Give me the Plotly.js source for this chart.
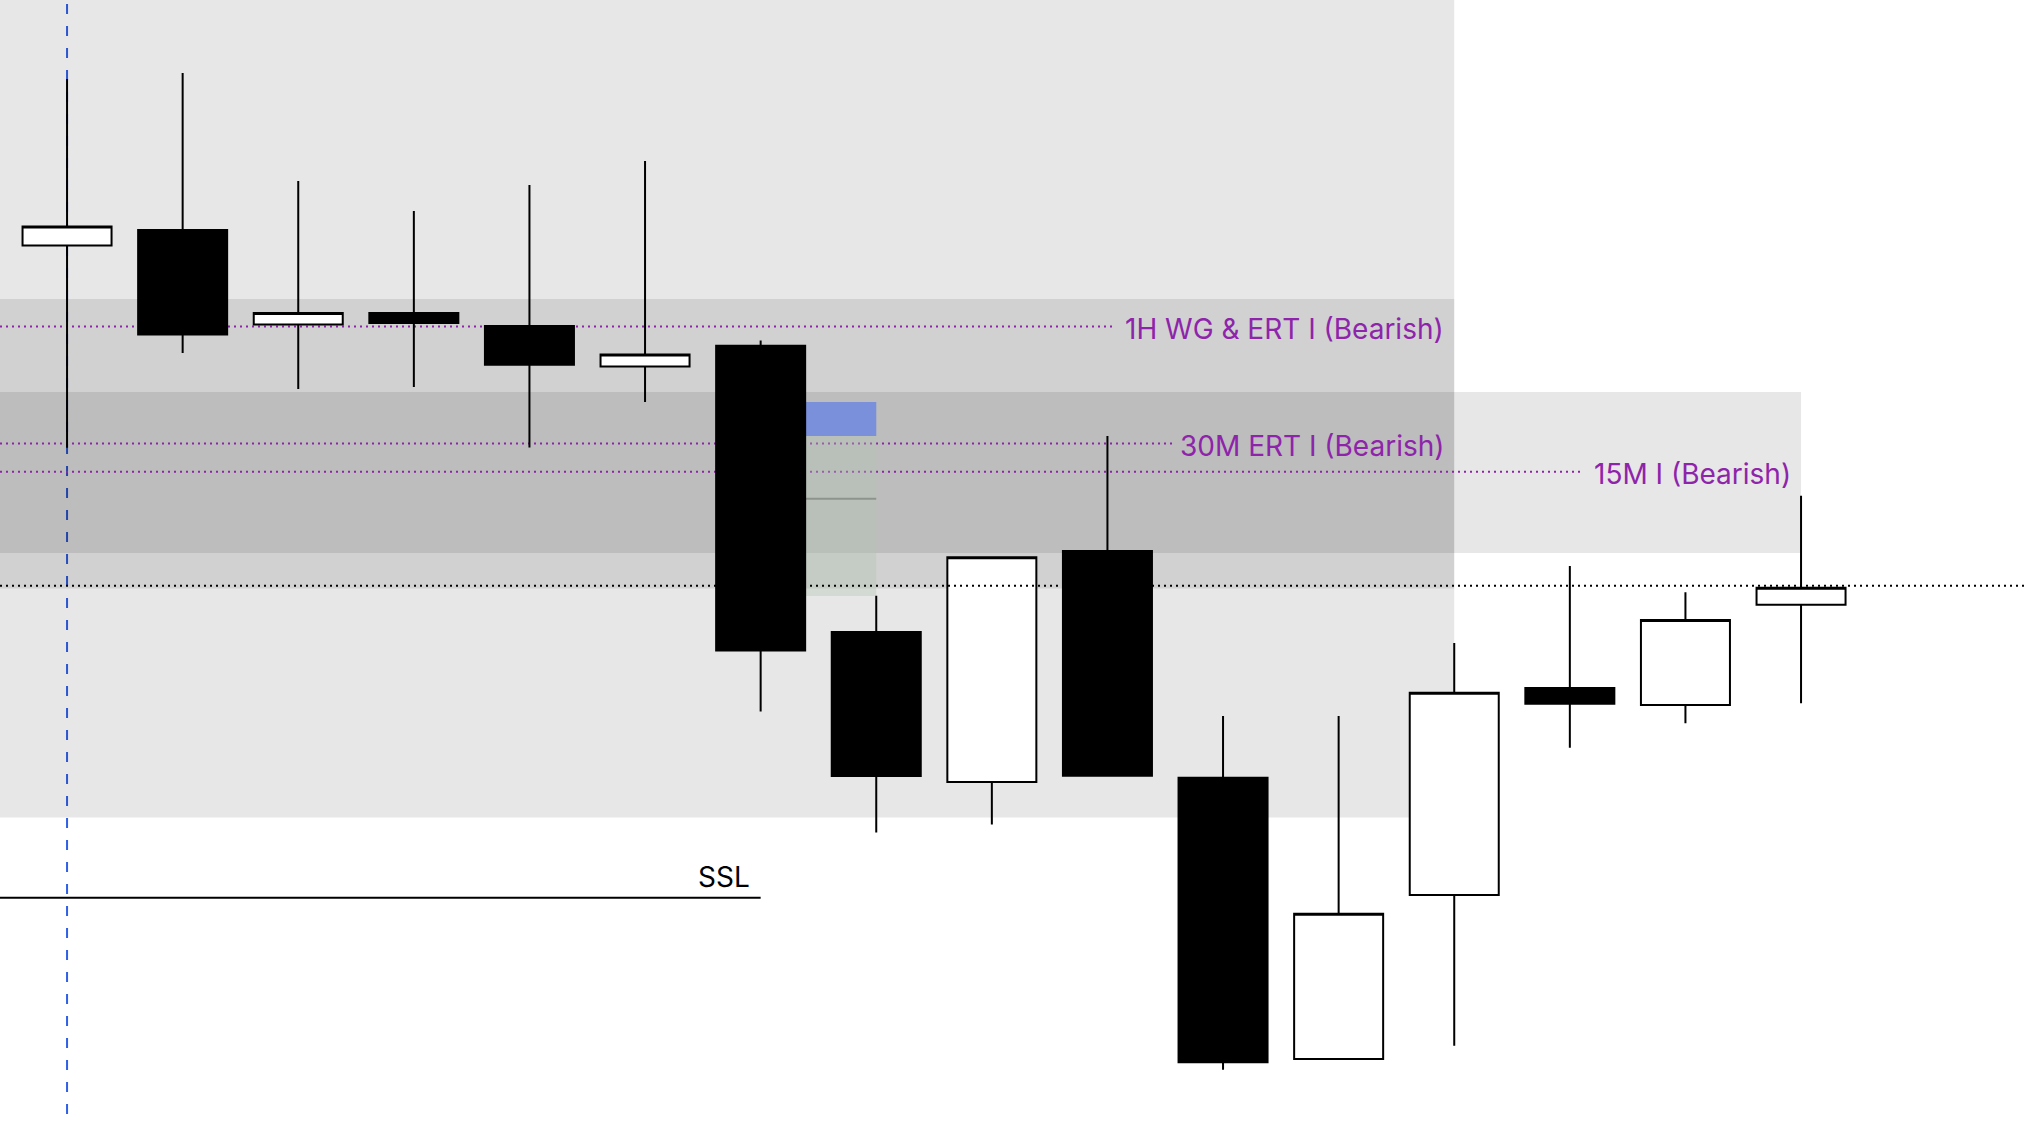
<!DOCTYPE html>
<html>
<head>
<meta charset="utf-8">
<script src="https://cdn.plot.ly/plotly-3.0.1.min.js"></script>
<style>
html,body{margin:0;padding:0;background:#fff;overflow:hidden}
#chart{width:2026px;height:1122px}
</style>
</head>
<body>
<div id="chart"></div>
<script>
// ---- data ----
const candleIndex = [0, 1, 2, 3, 4, 5, 6, 7, 8, 9, 10, 11, 12, 13, 14, 15];
const openPrices  = [87.65, 89.20, 79.74, 80.90, 79.61, 75.56, 77.62, 49.00, 33.99, 57.10, 34.43, 6.30, 22.71, 43.40, 41.70, 51.73];
const highPrices  = [104.30, 104.90, 94.10, 91.09, 93.70, 96.10, 78.14, 52.63, 56.48, 68.60, 40.60, 40.60, 47.90, 55.60, 52.97, 62.63];
const lowPrices   = [67.43, 76.89, 73.31, 73.49, 67.44, 71.99, 41.05, 28.94, 29.74, 34.62, 5.22, 6.30, 7.62, 37.42, 39.87, 41.87];
const closePrices = [89.56, 78.74, 80.90, 79.89, 75.73, 76.75, 47.14, 34.60, 56.48, 34.62, 5.98, 20.83, 42.93, 41.83, 50.20, 53.43];

// grey zones
const zoneTop    = [112.2, 82.30, 73.00];
const zoneBottom = [30.44, 53.35, 56.90];
const zoneEnd    = [12, 12, 15];

// labelled levels
const levelNames  = ['1H WG & ERT I (Bearish)', '30M ERT I (Bearish)', '15M I (Bearish)'];
const levelPrices = [79.54, 67.85, 65.03];
const levelLineEnd = [9.07, 9.58, 13.09];
const levelLabelAt = [12, 12, 15];

// other marks
const sslName = 'SSL';
const sslPrice = 22.43;
const sslEnd = 6;
const currentPrice = 53.62;
const markerIndex = 0;
const posStart = 6, posEnd = 7;
const posStopTop = 72.0, posStopBottom = 68.6, posEntry = 62.33, posTarget = 52.6;

// ---- layout ----
const xMin = -0.58, xMax = 16.946;
const yMin = 0, yMax = 112.2;
const purple = '#8E24AA';
const labelFont = 'Inter, "Noto Sans", "DejaVu Sans", sans-serif';

const shapes = [];
for (let i = 0; i < zoneTop.length; i++) {
  shapes.push({type: 'rect', layer: 'below', xref: 'x', yref: 'y',
    x0: xMin, x1: zoneEnd[i], y0: zoneBottom[i], y1: zoneTop[i],
    fillcolor: 'rgba(0,0,0,0.095)', line: {width: 0}});
}
for (let i = 0; i < levelPrices.length; i++) {
  shapes.push({type: 'line', layer: 'below', xref: 'x', yref: 'y',
    x0: xMin, x1: levelLineEnd[i], y0: levelPrices[i], y1: levelPrices[i],
    line: {color: purple, width: 2, dash: '2px,4px'}});
}
// position tool
shapes.push({type: 'rect', layer: 'below', xref: 'x', yref: 'y',
  x0: posStart, x1: posEnd, y0: posStopBottom, y1: posStopTop,
  fillcolor: '#7A90DA', line: {width: 0}});
shapes.push({type: 'rect', layer: 'below', xref: 'x', yref: 'y',
  x0: posStart, x1: posEnd, y0: posTarget, y1: posStopBottom,
  fillcolor: 'rgba(178,198,178,0.36)', line: {width: 0}});
shapes.push({type: 'line', layer: 'below', xref: 'x', yref: 'y',
  x0: posStart, x1: posEnd, y0: posEntry, y1: posEntry,
  line: {color: '#8E938E', width: 2}});
// vertical marker
shapes.push({type: 'line', layer: 'below', xref: 'x', yref: 'paper',
  x0: markerIndex, x1: markerIndex, y0: 1.016, y1: 0,
  line: {color: '#2F5FE6', width: 2, dash: '10px,12px'}});
// SSL
shapes.push({type: 'line', layer: 'below', xref: 'x', yref: 'y',
  x0: xMin, x1: sslEnd, y0: sslPrice, y1: sslPrice,
  line: {color: '#000000', width: 2}});
// current price dotted line (above candles)
shapes.push({type: 'line', layer: 'above', xref: 'x', yref: 'y',
  x0: xMin, x1: xMax, y0: currentPrice, y1: currentPrice,
  line: {color: '#000000', width: 2, dash: '2px,4px'}});

const annotations = [];
for (let i = 0; i < levelNames.length; i++) {
  annotations.push({xref: 'x', yref: 'y', x: levelLabelAt[i], y: levelPrices[i],
    xanchor: 'right', yanchor: 'middle', xshift: -8, yshift: -2, showarrow: false,
    text: levelNames[i], font: {family: labelFont, size: 28, color: purple}});
}
annotations.push({xref: 'x', yref: 'y', x: sslEnd, y: sslPrice,
  xanchor: 'right', yanchor: 'bottom', xshift: -9, yshift: 2, showarrow: false,
  text: sslName, font: {family: labelFont, size: 28, color: '#000000'}});

const trace = {
  type: 'candlestick',
  x: candleIndex,
  open: openPrices, high: highPrices, low: lowPrices, close: closePrices,
  increasing: {line: {color: '#000000', width: 2}, fillcolor: '#FFFFFF'},
  decreasing: {line: {color: '#000000', width: 2}, fillcolor: '#000000'},
  whiskerwidth: 0,
  hoverinfo: 'skip',
  showlegend: false
};

const layout = {
  width: 2026, height: 1122,
  margin: {l: 0, r: 0, t: 0, b: 0, pad: 0},
  paper_bgcolor: '#FFFFFF', plot_bgcolor: '#FFFFFF',
  showlegend: false,
  boxgap: 0.23, boxgroupgap: 0,
  xaxis: {range: [xMin, xMax], visible: false, showgrid: false, zeroline: false,
          rangeslider: {visible: false}, fixedrange: true},
  yaxis: {range: [yMin, yMax], visible: false, showgrid: false, zeroline: false, fixedrange: true},
  shapes: shapes,
  annotations: annotations
};

Plotly.newPlot('chart', [trace], layout, {displayModeBar: false, staticPlot: true});
</script>
</body>
</html>
